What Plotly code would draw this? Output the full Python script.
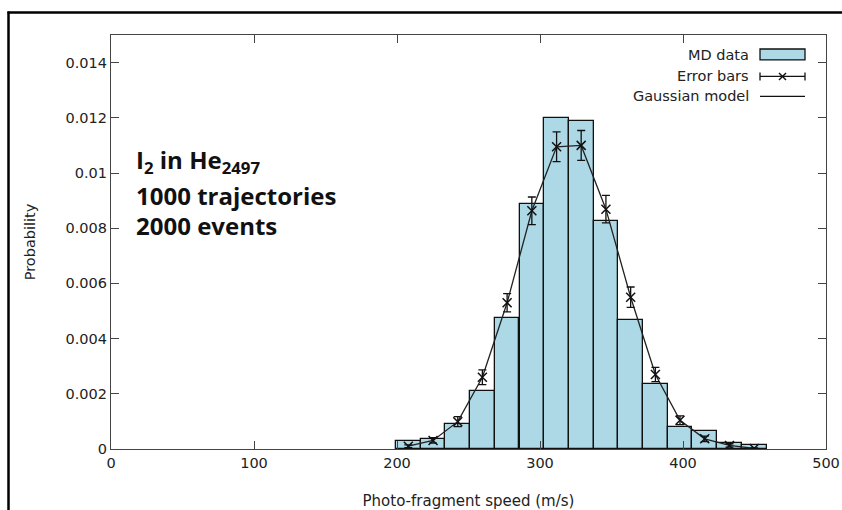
import plotly.graph_objects as go

# ---- data ----
bin_centers = [207.9, 225.2, 242.5, 259.7, 277.0, 294.3, 311.6, 328.8,
               346.1, 363.4, 380.7, 397.9, 415.2, 432.5, 449.8]
bin_width = 17.27
md_prob = [0.00028, 0.00038, 0.00089, 0.0021, 0.00473, 0.00887, 0.0120, 0.0119,
           0.00825, 0.00468, 0.00235, 0.00079, 0.00064, 0.00022, 0.00013]
err_prob = [0.0001, 0.00031, 0.00099, 0.0026, 0.0053, 0.00863, 0.01095, 0.0110,
            0.00869, 0.0055, 0.0027, 0.00104, 0.00037, 0.00013, 0.00002]
err_size = [0.00005, 0.0001, 0.00018, 0.00027, 0.00033, 0.0005, 0.00054, 0.00054,
            0.0005, 0.00037, 0.00026, 0.00016, 0.0001, 0.00006, 0.00002]
gauss_model = [0.0001, 0.00031, 0.00099, 0.0026, 0.0053, 0.00863, 0.01095, 0.0110,
               0.00869, 0.0055, 0.0027, 0.00104, 0.00037, 0.00013, 0.00002]
x_ticks = [0, 100, 200, 300, 400, 500]
y_ticks = [0, 0.002, 0.004, 0.006, 0.008, 0.01, 0.012, 0.014]
y_ticktext = ["0", "0.002", "0.004", "0.006", "0.008", "0.01", "0.012", "0.014"]
info_lines = ["<b>I<sub>2</sub> in He<sub>2497</sub></b>",
              "<b>1000 trajectories</b>",
              "<b>2000 events</b>"]

FONT = "DejaVu Sans"
TXT = "#222222"

W, H = 842, 510
L, R, T, B = 111, 826, 35, 449.5   # plot area in page pixels


def px(xp):
    return (xp - L) / (R - L)


def py(yp):
    return (B - yp) / (B - T)


fig = go.Figure()
fig.add_trace(go.Bar(
    x=bin_centers, y=md_prob, width=bin_width,
    marker=dict(color="#ADD8E6", line=dict(color="#111111", width=1.3)),
    name="MD data", showlegend=False))
fig.add_trace(go.Scatter(
    x=bin_centers, y=gauss_model, mode="lines",
    line=dict(color="#222222", width=1.3), name="Gaussian model",
    showlegend=False))
fig.add_trace(go.Scatter(
    x=bin_centers, y=err_prob, mode="markers",
    marker=dict(symbol="x-thin-open", size=9, color="#111111",
                line=dict(color="#111111", width=1.5)),
    error_y=dict(type="data", array=err_size, color="#111111",
                 thickness=1.3, width=4),
    name="Error bars", showlegend=False))

shapes = []
# outer frame of the screenshot
shapes.append(dict(type="line", xref="paper", yref="paper",
                   x0=px(7.5), x1=px(850), y0=py(12.5), y1=py(12.5),
                   line=dict(color="black", width=2.5)))
shapes.append(dict(type="line", xref="paper", yref="paper",
                   x0=px(8.5), x1=px(8.5), y0=py(11.5), y1=py(520),
                   line=dict(color="black", width=2.5)))
# legend samples
shapes.append(dict(type="rect", xref="paper", yref="paper",
                   x0=px(760), x1=px(805), y0=py(60), y1=py(49),
                   fillcolor="#ADD8E6", line=dict(color="#111111", width=1.3)))
ye = 76.5
shapes.append(dict(type="line", xref="paper", yref="paper",
                   x0=px(760), x1=px(805), y0=py(ye), y1=py(ye),
                   line=dict(color="#111111", width=1.3)))
for xc in (760, 805):
    shapes.append(dict(type="line", xref="paper", yref="paper",
                       x0=px(xc), x1=px(xc), y0=py(ye - 4), y1=py(ye + 4),
                       line=dict(color="#111111", width=1.3)))
shapes.append(dict(type="line", xref="paper", yref="paper",
                   x0=px(779), x1=px(786), y0=py(ye - 3.5), y1=py(ye + 3.5),
                   line=dict(color="#111111", width=1.4)))
shapes.append(dict(type="line", xref="paper", yref="paper",
                   x0=px(779), x1=px(786), y0=py(ye + 3.5), y1=py(ye - 3.5),
                   line=dict(color="#111111", width=1.4)))
shapes.append(dict(type="line", xref="paper", yref="paper",
                   x0=px(760), x1=px(805), y0=py(96.5), y1=py(96.5),
                   line=dict(color="#111111", width=1.3)))

annotations = []
for label, yy in (("MD data", 55.5), ("Error bars", 76.5), ("Gaussian model", 96.5)):
    annotations.append(dict(text=label, xref="paper", yref="paper",
                            x=px(751), y=py(yy), xanchor="right", yanchor="middle",
                            showarrow=False, font=dict(family=FONT, size=14.5, color=TXT)))
for label, yy in zip(info_lines, (161, 196, 226)):
    annotations.append(dict(text=label, xref="paper", yref="paper",
                            x=px(134), y=py(yy), xanchor="left", yanchor="middle",
                            showarrow=False,
                            font=dict(family="Open Sans", size=24, color="#111111")))

fig.update_layout(
    width=W, height=H,
    margin=dict(l=L, r=W - R, t=T, b=H - B, autoexpand=False),
    paper_bgcolor="white", plot_bgcolor="white",
    bargap=0,
    showlegend=False,
    shapes=shapes, annotations=annotations,
    xaxis=dict(range=[0, 500], tickvals=x_ticks, ticks="inside", ticklen=8,
               tickcolor="#444444", showline=True, linecolor="#444444", linewidth=1.2,
               mirror="ticks", showgrid=False, zeroline=False, automargin=False,
               tickfont=dict(family=FONT, size=14.5, color=TXT),
               title=dict(text="Photo-fragment speed (m/s)", standoff=26,
                          font=dict(family=FONT, size=15, color=TXT))),
    yaxis=dict(range=[0, 0.015], tickvals=y_ticks, ticktext=y_ticktext,
               ticks="inside", ticklen=8, tickcolor="#444444",
               showline=True, linecolor="#444444", linewidth=1.2,
               mirror="ticks", showgrid=False, zeroline=False, automargin=False,
               tickfont=dict(family=FONT, size=14.5, color=TXT),
               title=dict(text="Probability", standoff=26,
                          font=dict(family=FONT, size=14.5, color=TXT))),
)

# remove the default 8px page margin so the 842x510 figure fills the window exactly
fig.write_html("out.html", config={"displayModeBar": False},
               post_script="document.body.style.margin='0px';")
